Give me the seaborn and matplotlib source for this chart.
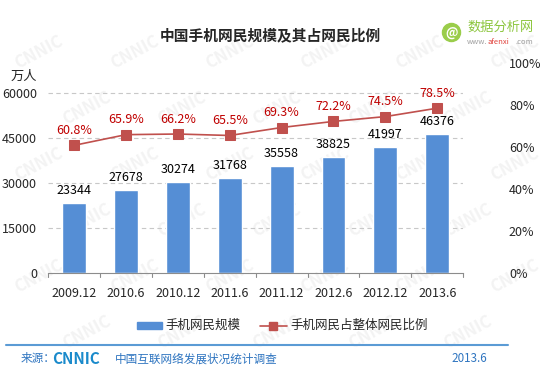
import seaborn as sns
import matplotlib.pyplot as plt
import pandas as pd

periods = ["2009.12", "2010.6", "2010.12", "2011.6", "2011.12", "2012.6", "2012.12", "2013.6"]
users = [23344, 27678, 30274, 31768, 35558, 38825, 41997, 46376]
share = [60.8, 65.9, 66.2, 65.5, 69.3, 72.2, 74.5, 78.5]

df = pd.DataFrame({"period": periods, "users": users, "share": share})

sns.set_style("white")
plt.rcParams['font.family'] = ['Noto Sans CJK SC', 'DejaVu Sans']

bar_color = "#558ED5"
line_color = "#C0504D"
foot_color = "#2F75C0"

fig = plt.figure(figsize=(5.6, 3.73), dpi=100)

# faint CNNIC watermark behind everything, kept inside the figure
for row in range(6):
    for col in range(6):
        x = 0.07 + col * 0.17 + (row % 2) * 0.085
        y = 0.86 - row * 0.15
        if x > 0.93:
            continue
        fig.text(x, y, "CNNIC", fontsize=12, fontweight="bold", color="#F3F3F3",
                 rotation=28, ha="center", va="center", zorder=-5)

ax = fig.add_axes([0.086, 0.268, 0.741, 0.563])
ax.patch.set_alpha(0)

sns.barplot(data=df, x="period", y="users", color=bar_color, width=0.46,
            saturation=1, ax=ax, zorder=2)
ax.set_ylim(0, 70000)
ax.set_yticks(range(0, 60001, 15000))
ax.set_xlim(-0.5, len(periods) - 0.5)
ax.set_xlabel("")
ax.set_ylabel("")
ax.tick_params(axis="y", length=0, labelsize=9, pad=8)
ax.tick_params(axis="x", length=0, labelsize=9, pad=10)
for y in range(15000, 60001, 15000):
    ax.axhline(y, color="#C8C8C8", lw=0.8, ls=(0, (4, 3)), zorder=1)
for s in ["top", "right", "left"]:
    ax.spines[s].set_visible(False)
ax.spines["bottom"].set_color("#8C8C8C")
for i in range(len(periods) + 1):
    ax.plot([i - 0.5, i - 0.5], [0, -1200], color="#8C8C8C", lw=0.8, clip_on=False)

for i, v in enumerate(users):
    ax.text(i, v + 2000, str(v), ha="center", va="bottom", fontsize=9, color="#000000")

ax2 = ax.twinx()
ax2.patch.set_alpha(0)
sns.lineplot(x=list(range(len(periods))), y=[s / 100 for s in share], ax=ax2,
             color=line_color, marker="s", markersize=7, markeredgecolor=line_color,
             lw=1.2)
ax2.set_ylim(0, 1)
ax2.set_yticks([0, 0.2, 0.4, 0.6, 0.8, 1.0])
ax2.set_yticklabels(["0%", "20%", "40%", "60%", "80%", "100%"])
ax2.tick_params(axis="y", length=0, labelsize=9, pad=33)
for s in ["top", "right", "left", "bottom"]:
    ax2.spines[s].set_visible(False)
for i, s in enumerate(share):
    ax2.text(i, s / 100 + 0.04, f"{s}%", ha="center", va="bottom", fontsize=9, color="#C00000")

fig.text(0.018, 0.794, "万人", fontsize=9.5, ha="left", va="center")
fig.text(0.483, 0.905, "中国手机网民规模及其占网民比例", fontsize=10.6, fontweight="bold",
         ha="center", va="center")

# site logo
fig.add_artist(plt.Line2D([0.806], [0.915], transform=fig.transFigure, color="#9ACD4A",
                          marker="o", markersize=13, markeredgecolor="#9ACD4A"))
fig.text(0.806, 0.912, "@", fontsize=9, color="white", fontweight="bold",
         ha="center", va="center")
fig.text(0.834, 0.927, "数据分析网", fontsize=9.5, color="#8DC63F", ha="left", va="center")
fig.text(0.834, 0.887, "www.", fontsize=5.5, color="#A0A0A0", ha="left", va="center")
fig.text(0.871, 0.887, "afenxi", fontsize=5.5, color="#E0403A", ha="left", va="center")
fig.text(0.920, 0.887, ".com", fontsize=5.5, color="#A0A0A0", ha="left", va="center")

# legend
fig.patches.append(plt.Rectangle((0.245, 0.117), 0.044, 0.02, transform=fig.transFigure,
                                 color=bar_color, figure=fig))
fig.text(0.295, 0.127, "手机网民规模", fontsize=9, ha="left", va="center")
fig.add_artist(plt.Line2D([0.464, 0.512], [0.127, 0.127], transform=fig.transFigure,
                          color=line_color, lw=1.2))
fig.add_artist(plt.Line2D([0.488], [0.127], transform=fig.transFigure, color=line_color,
                          marker="s", markersize=6))
fig.text(0.518, 0.127, "手机网民占整体网民比例", fontsize=9, ha="left", va="center")

# footer
fig.add_artist(plt.Line2D([0.01, 0.907], [0.075, 0.075], transform=fig.transFigure,
                          color="#5B9BD5", lw=1.5))
fig.text(0.036, 0.038, "来源：", fontsize=8.4, color=foot_color, ha="left", va="center")
fig.text(0.093, 0.038, "CNNIC", fontsize=11, fontweight="bold", color="#1A8ACB",
         ha="left", va="center")
fig.text(0.205, 0.038, "中国互联网络发展状况统计调查", fontsize=8.4, color=foot_color,
         ha="left", va="center")
fig.text(0.87, 0.038, "2013.6", fontsize=8.4, color=foot_color, ha="right", va="center")

fig.savefig("out.png", dpi=100)
